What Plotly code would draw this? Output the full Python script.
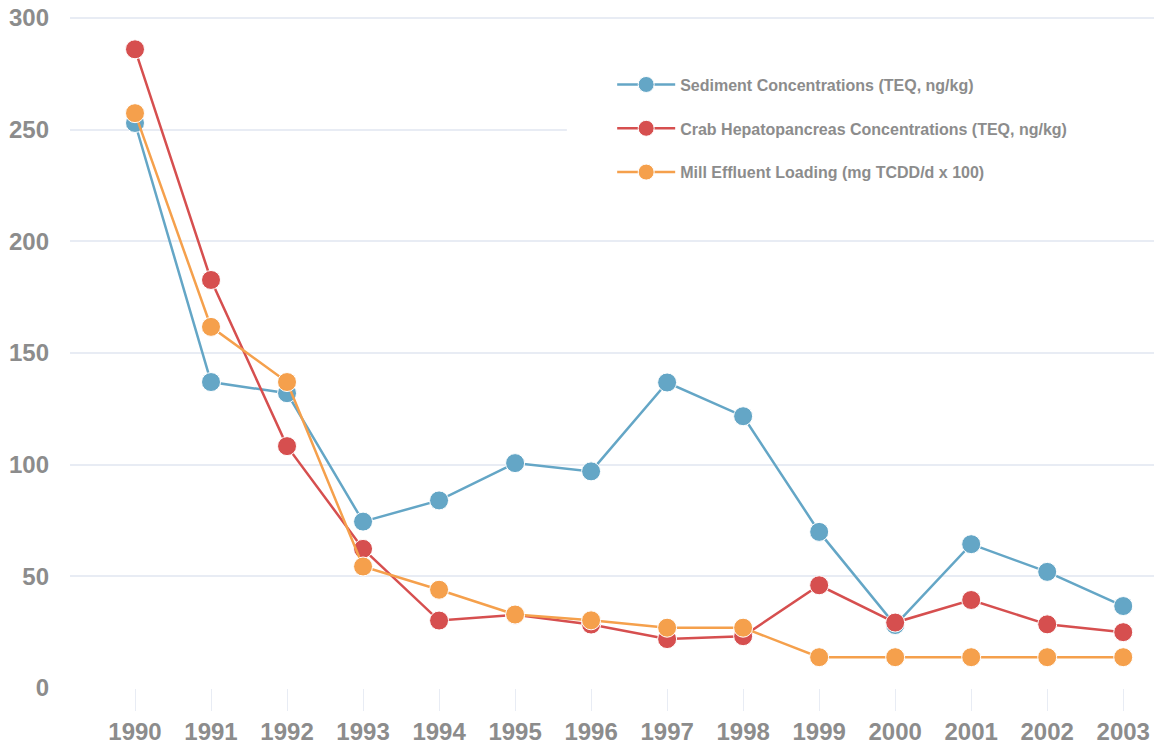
import plotly.graph_objects as go

years = [1990, 1991, 1992, 1993, 1994, 1995, 1996, 1997, 1998, 1999, 2000, 2001, 2002, 2003]
sediment = [253, 137, 132, 74.5, 84, 100.7, 97, 136.8, 121.7, 69.9, 28.2, 64.4, 52, 36.7]
crab = [286, 182.7, 108.3, 62.3, 30.2, 32.8, 28.4, 21.9, 23.2, 46, 29.3, 39.4, 28.5, 25]
mill = [257.4, 161.7, 137, 54.4, 44, 32.9, 30.3, 27, 27, 13.8, 13.8, 13.8, 13.8, 13.8]

names = [
    "Sediment Concentrations (TEQ, ng/kg)",
    "Crab Hepatopancreas Concentrations (TEQ, ng/kg)",
    "Mill Effluent Loading (mg TCDD/d x 100)",
]
colors = ["#64a6c6", "#d64f4f", "#f5a04c"]
series = [sediment, crab, mill]

fig = go.Figure()
for i, (nm, col, vals) in enumerate(zip(names, colors, series)):
    fig.add_trace(go.Scatter(
        x=years, y=vals, name=nm, mode="lines+markers",
        line=dict(color=col, width=2.5),
        marker=dict(color=col, size=19, line=dict(color="white", width=1)),
        legendgroup=f"g{i}",
    ))

fig.add_shape(type="rect", xref="paper", yref="paper", x0=0.455, x1=1.0, y0=0.74, y1=0.93,
              fillcolor="white", line=dict(width=0), layer="above")

axis_font = dict(family="Liberation Sans, Arial, sans-serif", size=24, color="#8c8c8c", weight="bold")

fig.update_layout(
    width=1154, height=736,
    margin=dict(l=62, r=0, t=6, b=56),
    paper_bgcolor="white", plot_bgcolor="white",
    showlegend=True,
    legend=dict(
        x=0.4965, y=0.9205, xanchor="left", yanchor="top",
        bgcolor="rgba(0,0,0,0)",
        font=dict(family="Liberation Sans, Arial, sans-serif", size=16, color="#8c8c8c", weight="bold"),
        tracegroupgap=20,
        itemwidth=58,
    ),
    xaxis=dict(
        range=[1989.145, 2003.51],
        tickvals=years, ticktext=[str(y) for y in years],
        showgrid=False, zeroline=False, showline=False,
        ticks="outside", ticklen=22, tickcolor="#e8ecf4", tickwidth=1,
        tickfont=axis_font, automargin=False,
    ),
    yaxis=dict(
        range=[0, 301.8], tickvals=[0, 50, 100, 150, 200, 250, 300],
        showgrid=True, gridcolor="#e8ecf4", gridwidth=1.5,
        zeroline=False, showline=False, automargin=False,
        tickfont=axis_font, ticklabelstandoff=20, ticklabeloverflow="allow",
    ),
)

fig.write_html("out.html")
